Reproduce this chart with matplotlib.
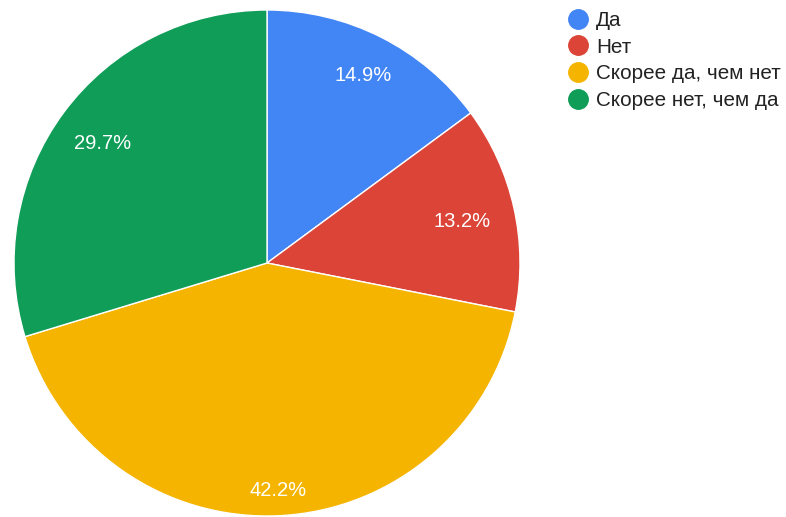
import matplotlib
matplotlib.use("Agg")
import matplotlib.pyplot as plt
from matplotlib.lines import Line2D
import numpy as np

plt.rcParams['font.family'] = ['Liberation Sans', 'DejaVu Sans']

categories = ["Да", "Нет", "Скорее да, чем нет", "Скорее нет, чем да"]
values = [14.9, 13.2, 42.2, 29.7]
colors = ["#4285F4", "#DB4437", "#F4B400", "#0F9D58"]

W, H = 786, 517
fig = plt.figure(figsize=(W / 100, H / 100), dpi=100)
# pie area in pixels: center (267, 263), radius ~253
cx, cy, r = 267, 263, 253
ax = fig.add_axes([(cx - r) / W, (H - cy - r) / H, 2 * r / W, 2 * r / H])
wedges, texts, autotexts = ax.pie(
    values, colors=colors, startangle=90, counterclock=False,
    autopct=lambda p: f"{p:.1f}%", pctdistance=0.82, radius=1.0,
    wedgeprops=dict(edgecolor="white", linewidth=1.0),
    textprops=dict(color="white", fontsize=14.5))
ax.set_xlim(-1, 1)
ax.set_ylim(-1, 1)
ax.set_aspect('equal')
ax.axis('off')

# label distance as fraction of radius
dists = [0.84, 0.79, 0.89, 0.81]
for w, t, d in zip(wedges, autotexts, dists):
    ang = np.deg2rad((w.theta1 + w.theta2) / 2)
    t.set_position((d * np.cos(ang), d * np.sin(ang) - 0.01))
    t.set_ha('center')
    t.set_va('center')

handles = [Line2D([0], [0], marker='o', linestyle='none', markersize=14,
                  markerfacecolor=c, markeredgecolor=c) for c in colors]
fig.legend(handles, categories, loc='upper left',
           bbox_to_anchor=(568 / W, 1 - 11 / H), frameon=False,
           fontsize=14.9, handletextpad=0.35, labelspacing=0.37,
           handlelength=1.0, borderaxespad=0, borderpad=0,
           labelcolor='#222222')

fig.savefig("out.png", dpi=100)
